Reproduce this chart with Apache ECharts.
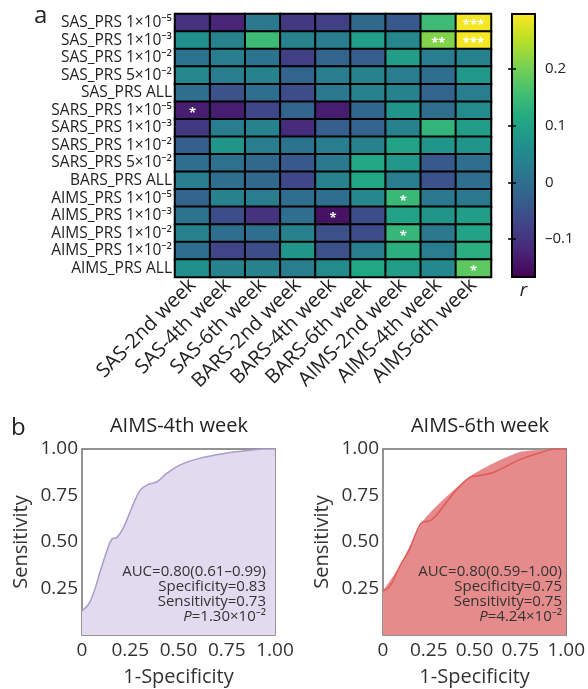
<!DOCTYPE html>
<html><head><meta charset="utf-8">
<script src="https://cdn.jsdelivr.net/npm/echarts@6/dist/echarts.min.js"></script>
<style>html,body{margin:0;padding:0;background:#fff}#c{width:588px;height:689px}</style>
</head><body><div id="c"></div>
<script>
// ---------- data ----------
const rowLabels = ['SAS_PRS 1×10⁻⁵','SAS_PRS 1×10⁻³','SAS_PRS 1×10⁻²','SAS_PRS 5×10⁻²','SAS_PRS ALL',
  'SARS_PRS 1×10⁻⁵','SARS_PRS 1×10⁻³','SARS_PRS 1×10⁻²','SARS_PRS 5×10⁻²','BARS_PRS ALL',
  'AIMS_PRS 1×10⁻⁵','AIMS_PRS 1×10⁻³','AIMS_PRS 1×10⁻²','AIMS_PRS 1×10⁻²','AIMS_PRS ALL'];
const colLabels = ['SAS-2nd week','SAS-4th week','SAS-6th week','BARS-2nd week','BARS-4th week',
  'BARS-6th week','AIMS-2nd week','AIMS-4th week','AIMS-6th week'];
const corrValues = [
  [-0.10,-0.12, 0.02,-0.09,-0.08,-0.01,-0.04, 0.15, 0.29],
  [ 0.065,0.04, 0.15, 0.04, 0.03, 0.09, 0.05, 0.21, 0.29],
  [ 0.01, 0.03, 0.01,-0.08,-0.02,-0.03, 0.09, 0.03, 0.04],
  [ 0.05, 0.03, 0.04,-0.02, 0.03, 0.04, 0.03, 0.00, 0.08],
  [ 0.00,-0.05, 0.00,-0.06, 0.02, 0.04, 0.04,-0.02, 0.03],
  [-0.13,-0.13,-0.07,-0.02,-0.13,-0.015,0.075,0.00, 0.055],
  [-0.09, 0.03, 0.04,-0.11,-0.03,-0.02, 0.04, 0.135,0.09],
  [-0.03, 0.075,0.03, 0.01, 0.03, 0.04, 0.10, 0.075,0.075],
  [ 0.00, 0.005,-0.01,-0.04,0.02, 0.11, 0.08,-0.04, 0.00],
  [ 0.03, 0.00,-0.01,-0.07, 0.04, 0.11, 0.03,-0.05, 0.00],
  [-0.02, 0.04, 0.03, 0.00, 0.00, 0.05, 0.145,0.02, 0.02],
  [ 0.01,-0.06,-0.10, 0.00,-0.145,-0.06,0.10, 0.075,0.09],
  [ 0.04, 0.00, 0.00, 0.04,-0.055,-0.06,0.14, 0.02, 0.10],
  [ 0.00,-0.074,-0.06,0.075,-0.055,0.03,0.125,0.03, 0.125],
  [ 0.065,0.04, 0.04, 0.03, 0.055,0.11, 0.09, 0.05, 0.18]
];
// significance marks: [row, col, text]
const starMarks = [[0,8,'***'],[1,7,'**'],[1,8,'***'],[5,0,'*'],[10,6,'*'],[11,4,'*'],[12,6,'*'],[14,8,'*']];
const colorbarMin = -0.167, colorbarMax = 0.297;
const colorbarTicks = [-0.1, 0, 0.1, 0.2];

// ROC AIMS-4th week
const roc4X = [0, 0.043, 0.095, 0.129, 0.155, 0.181, 0.216, 0.267, 0.302, 0.336, 0.388, 0.44, 0.509, 0.612, 0.75, 0.871, 0.94, 1.0];
const roc4Y = [0.13, 0.181, 0.344, 0.453, 0.516, 0.525, 0.58, 0.707, 0.779, 0.806, 0.824, 0.87, 0.915, 0.951, 0.978, 0.993, 1.0, 1.0];
// ROC AIMS-6th week (curve and filled area)
const roc6X = [0, 0.039, 0.092, 0.145, 0.181, 0.216, 0.251, 0.287, 0.358, 0.428, 0.481, 0.526, 0.605, 0.747, 0.853, 0.942, 1.0];
const roc6Y = [0.235, 0.264, 0.371, 0.461, 0.55, 0.607, 0.6125, 0.639, 0.729, 0.809, 0.85, 0.857, 0.875, 0.943, 0.979, 1.0, 1.0];
const roc6FillX = [0, 0.092, 0.225, 0.481, 0.747, 1.0];
const roc6FillY = [0.2375, 0.371, 0.621, 0.857, 0.984, 1.0];

const rocStats4 = ['AUC=0.80(0.61–0.99)','Specificity=0.83','Sensitivity=0.73','{i|P}=1.30×10⁻²'];
const rocStats6 = ['AUC=0.80(0.59–1.00)','Specificity=0.75','Sensitivity=0.75','{i|P}=4.24×10⁻²'];

// ---------- styling ----------
const FONT = "'Open Sans','Noto Sans','DejaVu Sans',sans-serif";
const TXT = '#222';
const viridis = ['#440154','#482576','#414487','#35608D','#2A788E','#21908C','#22A884','#43BF71','#7AD151','#BBDF27','#FDE725'];

const heatData = [];
corrValues.forEach((row, i) => row.forEach((v, j) => {
  const s = starMarks.find(m => m[0] === i && m[1] === j);
  heatData.push([j, i, v, s ? s[2] : '']);
}));
const zip = (xs, ys) => xs.map((x, k) => [x, ys[k]]);

const chart = echarts.init(document.getElementById('c'), null, {renderer: 'canvas'});
const gradStops = viridis.map((c, k) => ({offset: 1 - k / (viridis.length - 1), color: c}));

function rocXAxis(gi) {
  return {gridIndex: gi, type: 'value', min: 0, max: 1, interval: 0.25,
    axisLine: {show: false}, axisTick: {show: false}, splitLine: {show: false},
    axisLabel: {fontSize: 19, color: '#333', fontFamily: FONT, margin: 6,
      formatter: v => v === 0 ? '0' : v.toFixed(2)},
    name: '1-Specificity', nameLocation: 'middle', nameGap: 32,
    nameTextStyle: {fontSize: 20, color: '#333', fontFamily: FONT}};
}
function rocYAxis(gi) {
  return {gridIndex: gi, type: 'value', min: 0, max: 1, interval: 0.25,
    axisLine: {show: false}, axisTick: {show: false}, splitLine: {show: false},
    axisLabel: {fontSize: 19, color: '#333', fontFamily: FONT, margin: 4,
      formatter: v => v === 0 ? '' : v.toFixed(2)},
    name: 'Sensitivity', nameLocation: 'middle', nameGap: 51,
    nameTextStyle: {fontSize: 20, color: '#333', fontFamily: FONT}};
}
function statTexts(rightX, lines) {
  const ys = [572, 587, 602, 617];
  return lines.map((t, k) => ({type: 'text', x: rightX, y: ys[k], z: 100,
    style: {text: t, align: 'right', verticalAlign: 'middle', textAlign: 'right', textVerticalAlign: 'middle',
      fontSize: 15, fontFamily: FONT, fill: '#333',
      rich: {i: {fontStyle: 'italic', fontSize: 15, fontFamily: FONT, fill: '#333'}}}}));
}

const option = {
  backgroundColor: '#fff',
  animation: false,
  textStyle: {fontFamily: FONT},
  title: [
    {text: 'a', left: 34, top: 4, padding: 0, textStyle: {fontSize: 24, fontWeight: 'normal', color: TXT, fontFamily: FONT}},
    {text: 'b', left: 11, top: 416, padding: 0, textStyle: {fontSize: 24, fontWeight: 'normal', color: TXT, fontFamily: FONT}},
    {text: 'AIMS-4th week', left: 179, top: 416, padding: 0, textAlign: 'center', textStyle: {fontSize: 20, fontWeight: 'normal', color: TXT, fontFamily: FONT}},
    {text: 'AIMS-6th week', left: 480, top: 416, padding: 0, textAlign: 'center', textStyle: {fontSize: 20, fontWeight: 'normal', color: TXT, fontFamily: FONT}}
  ],
  visualMap: {show: false, type: 'continuous', min: colorbarMin, max: colorbarMax, dimension: 2, seriesIndex: 0,
    inRange: {color: viridis}},
  grid: [
    {left: 175, top: 14, width: 316, height: 263, show: true, borderColor: '#000', borderWidth: 2, backgroundColor: 'transparent'},
    {left: 512, top: 14, width: 23, height: 263, show: true, borderColor: '#000', borderWidth: 2,
      backgroundColor: {type: 'linear', x: 0, y: 0, x2: 0, y2: 1, colorStops: gradStops}},
    {left: 82, top: 449, width: 193, height: 186, show: true, borderColor: '#707070', borderWidth: 1.5, backgroundColor: 'transparent'},
    {left: 383, top: 449, width: 188, height: 186, show: true, borderColor: '#707070', borderWidth: 1.5, backgroundColor: 'transparent'}
  ],
  xAxis: [
    {gridIndex: 0, type: 'category', data: colLabels, position: 'bottom',
      axisLine: {lineStyle: {color: '#000', width: 2}},
      axisTick: {alignWithLabel: true, length: 6, lineStyle: {color: '#000', width: 2}},
      axisLabel: {rotate: 45, fontSize: 20, color: TXT, fontFamily: FONT, margin: 5, interval: 0},
      splitLine: {show: false}},
    {gridIndex: 1, type: 'value', min: 0, max: 1, axisLine: {show: false}, axisTick: {show: false},
      axisLabel: {show: false}, splitLine: {show: false},
      name: 'r', nameLocation: 'middle', nameGap: 4,
      nameTextStyle: {fontSize: 19, fontStyle: 'italic', color: TXT, fontFamily: FONT}},
    rocXAxis(2), rocXAxis(3)
  ],
  yAxis: [
    {gridIndex: 0, type: 'category', data: rowLabels, inverse: true,
      axisLine: {lineStyle: {color: '#000', width: 2}},
      axisTick: {alignWithLabel: true, length: 6, lineStyle: {color: '#000', width: 2}},
      axisLabel: {fontSize: 15.5, color: TXT, fontFamily: FONT, margin: 3, interval: 0},
      splitLine: {show: false}},
    {gridIndex: 1, type: 'value', min: colorbarMin, max: colorbarMax, position: 'right',
      axisLine: {show: false}, splitLine: {show: false},
      axisTick: {show: true, inside: true, length: 4, customValues: colorbarTicks, lineStyle: {color: '#000', width: 1.5}},
      axisLabel: {customValues: colorbarTicks, fontSize: 15, color: TXT, fontFamily: FONT, margin: 10,
        formatter: v => (v < 0 ? '–' + String(Math.abs(v)) : String(v))}},
    {gridIndex: 1, type: 'value', min: colorbarMin, max: colorbarMax, position: 'left',
      axisLine: {show: false}, splitLine: {show: false}, axisLabel: {show: false},
      axisTick: {show: true, inside: true, length: 4, customValues: colorbarTicks, lineStyle: {color: '#000', width: 1.5}}},
    rocYAxis(2), rocYAxis(3)
  ],
  series: [
    {type: 'heatmap', xAxisIndex: 0, yAxisIndex: 0, data: heatData,
      itemStyle: {borderColor: '#000', borderWidth: 2},
      label: {show: true, formatter: p => p.data[3], color: '#fff', fontSize: 13, fontWeight: 'bold', offset: [0, 3]},
      emphasis: {disabled: true}},
    {type: 'line', xAxisIndex: 2, yAxisIndex: 3, data: zip(roc4X, roc4Y), smooth: 0.4, symbol: 'none',
      lineStyle: {color: '#a99dcb', width: 1.5}, areaStyle: {color: '#e2daef', opacity: 1}},
    {type: 'line', xAxisIndex: 3, yAxisIndex: 4, data: zip(roc6FillX, roc6FillY), smooth: 0.2, symbol: 'none',
      lineStyle: {width: 0, opacity: 0}, areaStyle: {color: '#e68b8b', opacity: 1}},
    {type: 'line', xAxisIndex: 3, yAxisIndex: 4, data: zip(roc6X, roc6Y), smooth: 0.4, symbol: 'none',
      lineStyle: {color: '#e05a55', width: 1.5}}
  ],
  graphic: [].concat(statTexts(266, rocStats4), statTexts(562, rocStats6))
};
chart.setOption(option);
</script></body></html>
